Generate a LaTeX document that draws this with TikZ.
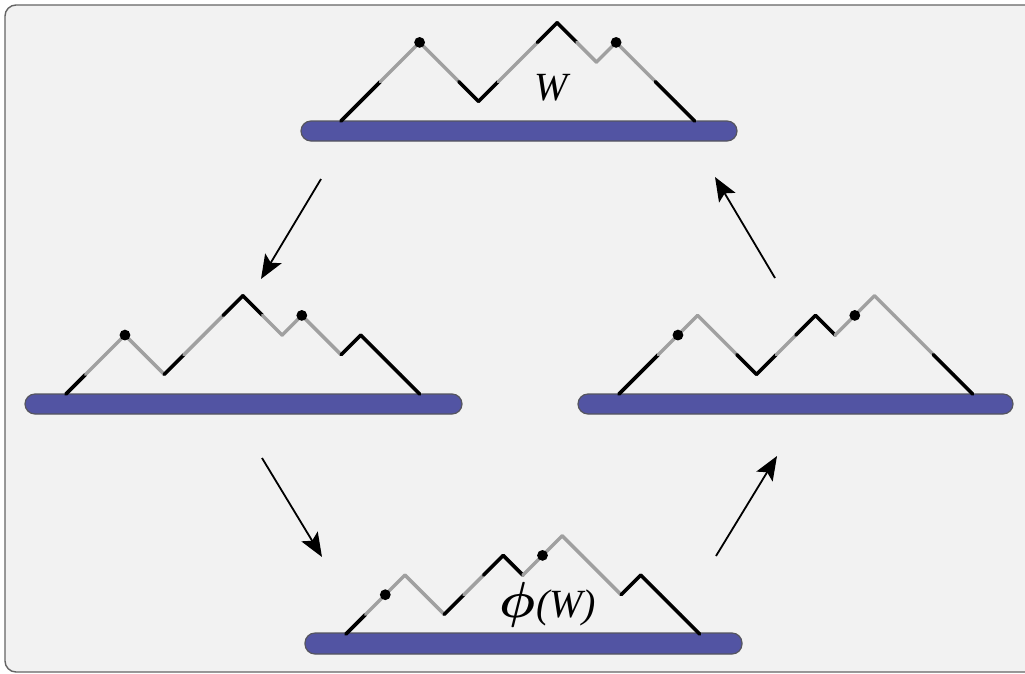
\documentclass[tikz,border=0pt]{standalone}
\usepackage{fontspec}
\setmainfont{Liberation Serif}
\usetikzlibrary{arrows.meta}
\definecolor{bgfill}{RGB}{242,242,242}
\definecolor{bgline}{RGB}{100,100,100}
\definecolor{barfill}{RGB}{82,84,163}
\definecolor{barline}{RGB}{85,85,95}
\definecolor{pgray}{RGB}{160,160,160}
\tikzset{
  blk/.style={draw=black,line width=3.6pt,line cap=round},
  gry/.style={draw=pgray,line width=3.4pt,line cap=round},
  barbox/.style={fill=barfill,draw=barline,line width=1.2pt,rounded corners=10pt},
  arr/.style={draw=black,line width=1.8pt,-{Stealth[length=24pt,width=19pt,inset=5pt]}},
  lbl/.style={inner sep=0pt,font=\fontsize{40}{40}\selectfont\itshape}
}
\newcommand\stp{19.65}
\newcommand\dyckpath[3]{%
  \xdef\cx{#1}\xdef\cy{#2}%
  \foreach \d/\c/\m in {#3}{%
    \pgfmathsetmacro\nx{\cx+\stp}%
    \pgfmathsetmacro\ny{\cy-\d*\stp}%
    \draw[\c] (\cx,\cy) -- (\nx,\ny);%
    \xdef\cx{\nx}\xdef\cy{\ny}%
  }%
  \xdef\cx{#1}\xdef\cy{#2}%
  \foreach \d/\c/\m in {#3}{%
    \pgfmathsetmacro\nx{\cx+\stp}%
    \pgfmathsetmacro\ny{\cy-\d*\stp}%
    \ifnum\m=1 \fill[black] (\nx,\ny) circle (5.4pt);\fi
    \xdef\cx{\nx}\xdef\cy{\ny}%
  }}
\begin{document}
\begin{tikzpicture}[x=1pt,y=-1pt]
\useasboundingbox (0,0) rectangle (1025,673);
\fill[white] (0,0) rectangle (1025,673);
\draw[fill=bgfill,draw=bgline,line width=1.4pt,rounded corners=11pt] (5,5) rectangle (1045,672);
% bars
\draw[barbox] (301,121) rectangle (737,141);
\draw[barbox] (25,394) rectangle (462,414);
\draw[barbox] (578,394) rectangle (1013,414);
\draw[barbox] (305,633) rectangle (742,654);
% paths
\dyckpath{341}{121}{1/blk/0,1/blk/0,1/gry/0,1/gry/1,-1/gry/0,-1/gry/0,-1/blk/0,1/blk/0,1/gry/0,1/gry/0,1/blk/0,-1/blk/0,-1/gry/0,1/gry/1,-1/gry/0,-1/gry/0,-1/blk/0,-1/blk/0}
\dyckpath{66}{394}{1/blk/0,1/gry/0,1/gry/1,-1/gry/0,-1/gry/0,1/blk/0,1/gry/0,1/gry/0,1/blk/0,-1/blk/0,-1/gry/0,1/gry/1,-1/gry/0,-1/gry/0,1/blk/0,-1/blk/0,-1/blk/0,-1/blk/0}
\dyckpath{619}{394}{1/blk/0,1/blk/0,1/gry/1,1/gry/0,-1/gry/0,-1/gry/0,-1/blk/0,1/blk/0,1/gry/0,1/blk/0,-1/blk/0,1/gry/1,1/gry/0,-1/gry/0,-1/gry/0,-1/gry/0,-1/blk/0,-1/blk/0}
\dyckpath{346}{634}{1/blk/0,1/gry/1,1/gry/0,-1/gry/0,-1/gry/0,1/blk/0,1/gry/0,1/blk/0,-1/blk/0,1/gry/1,1/gry/0,-1/gry/0,-1/gry/0,-1/gry/0,1/blk/0,-1/blk/0,-1/blk/0,-1/blk/0}
% labels
\node[lbl] (wlabel) at (551,88) {W};
\node[lbl] (phiw) at (548,605) {\resizebox*{!}{45pt}{\boldmath$\phi$}(W)};
% arrows
\coordinate (a1s) at (321,179);
\coordinate (a1e) at (261,279);
\coordinate (a2s) at (262,458);
\coordinate (a2e) at (322,557);
\coordinate (a3s) at (716,556);
\coordinate (a3e) at (777,456);
\coordinate (a4s) at (775,278);
\coordinate (a4e) at (715,177);
\draw[arr] (a1s) -- (a1e);
\draw[arr] (a2s) -- (a2e);
\draw[arr] (a3s) -- (a3e);
\draw[arr] (a4s) -- (a4e);
\end{tikzpicture}
\end{document}
